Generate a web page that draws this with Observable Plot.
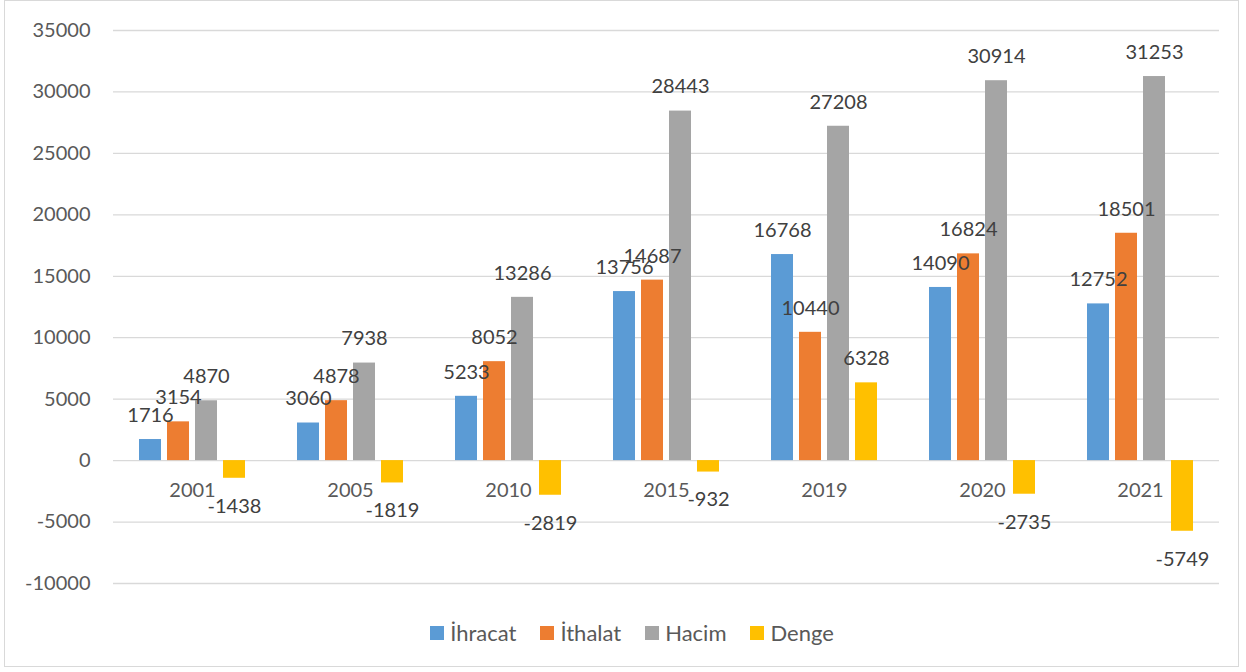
<!DOCTYPE html>
<html>
<head>
<meta charset="utf-8">
<script src="https://cdn.jsdelivr.net/npm/d3@7"></script>
<script src="https://cdn.jsdelivr.net/npm/@observablehq/plot@0.6"></script>
<style>
  html, body { margin: 0; padding: 0; background: #fff; }
  #frame { position: absolute; left: 4px; top: 0px; width: 1235px; height: 667px; border: 1px solid #d9d9d9; box-sizing: border-box; }
  #chart { position: absolute; left: 0; top: 0; }
  #legend { position: absolute; left: 0; top: 619px; width: 1246px; display: flex; justify-content: center; align-items: center;
            font-family: Lato, "Open Sans", sans-serif; font-size: 22px; color: #595959; padding-left: 42px; box-sizing: border-box; }
  .item { display: flex; align-items: center; margin-right: 24px; }
  .sw { width: 14px; height: 14px; margin-right: 6px; }
</style>
</head>
<body>
<div id="frame"></div>
<div id="chart"></div>
<div id="legend"></div>
<script>
const years = ["2001", "2005", "2010", "2015", "2019", "2020", "2021"];
const series = ["İhracat", "İthalat", "Hacim", "Denge"];
const colors = ["#5B9BD5", "#ED7D31", "#A5A5A5", "#FFC000"];
const ihracat = [1716, 3060, 5233, 13756, 16768, 14090, 12752];
const ithalat = [3154, 4878, 8052, 14687, 10440, 16824, 18501];
const hacim = [4870, 7938, 13286, 28443, 27208, 30914, 31253];
const denge = [-1438, -1819, -2819, -932, 6328, -2735, -5749];
const yTicks = [-10000, -5000, 0, 5000, 10000, 15000, 20000, 25000, 30000, 35000];

const valuesBySeries = [ihracat, ithalat, hacim, denge];
const data = [];
years.forEach((year, i) => {
  series.forEach((s, j) => data.push({ year, series: s, value: valuesBySeries[j][i] }));
});

const font = "Lato, 'Open Sans', sans-serif";
const textColor = "#595959";
const labelColor = "#404040";

const plot = Plot.plot({
  width: 1246,
  height: 600,
  marginLeft: 113,
  marginRight: 27,
  marginTop: 30,
  marginBottom: 17,
  style: { fontFamily: font, fontSize: "20px", color: textColor, background: "transparent" },
  fx: { domain: years, padding: 0, axis: null },
  x: { domain: series, paddingInner: 0.207, paddingOuter: 0.83, axis: null },
  y: { domain: [-10000, 35000], axis: null },
  color: { domain: series, range: colors },
  marks: [
    Plot.gridY(yTicks, { stroke: "#d9d9d9", strokeOpacity: 1, strokeWidth: 1.3 }),
    Plot.axisY(yTicks, { tickSize: 0, tickPadding: 23, tickFormat: d => String(d), fill: textColor, fontSize: 20, fontFamily: font, label: null }),
    Plot.barY(data, { fx: "year", x: "series", y: "value", fill: "series" }),
    Plot.text(data, { filter: d => d.value >= 0, fx: "year", x: "series", y: "value", text: d => String(d.value), dy: -24, fill: labelColor, fontSize: 20, fontFamily: font }),
    Plot.text(data, { filter: d => d.value < 0, fx: "year", x: "series", y: "value", text: d => String(d.value), dy: 28, fill: labelColor, fontSize: 20, fontFamily: font }),
    Plot.text(years, { fx: d => d, y: () => 0, text: d => d, dy: 30, fill: textColor, fontSize: 20, fontFamily: font })
  ]
});
document.getElementById("chart").appendChild(plot);

const legend = document.getElementById("legend");
series.forEach((s, i) => {
  const item = document.createElement("div");
  item.className = "item";
  const sw = document.createElement("div");
  sw.className = "sw";
  sw.style.background = colors[i];
  const label = document.createElement("span");
  label.textContent = s;
  item.appendChild(sw);
  item.appendChild(label);
  legend.appendChild(item);
});
</script>
</body>
</html>
